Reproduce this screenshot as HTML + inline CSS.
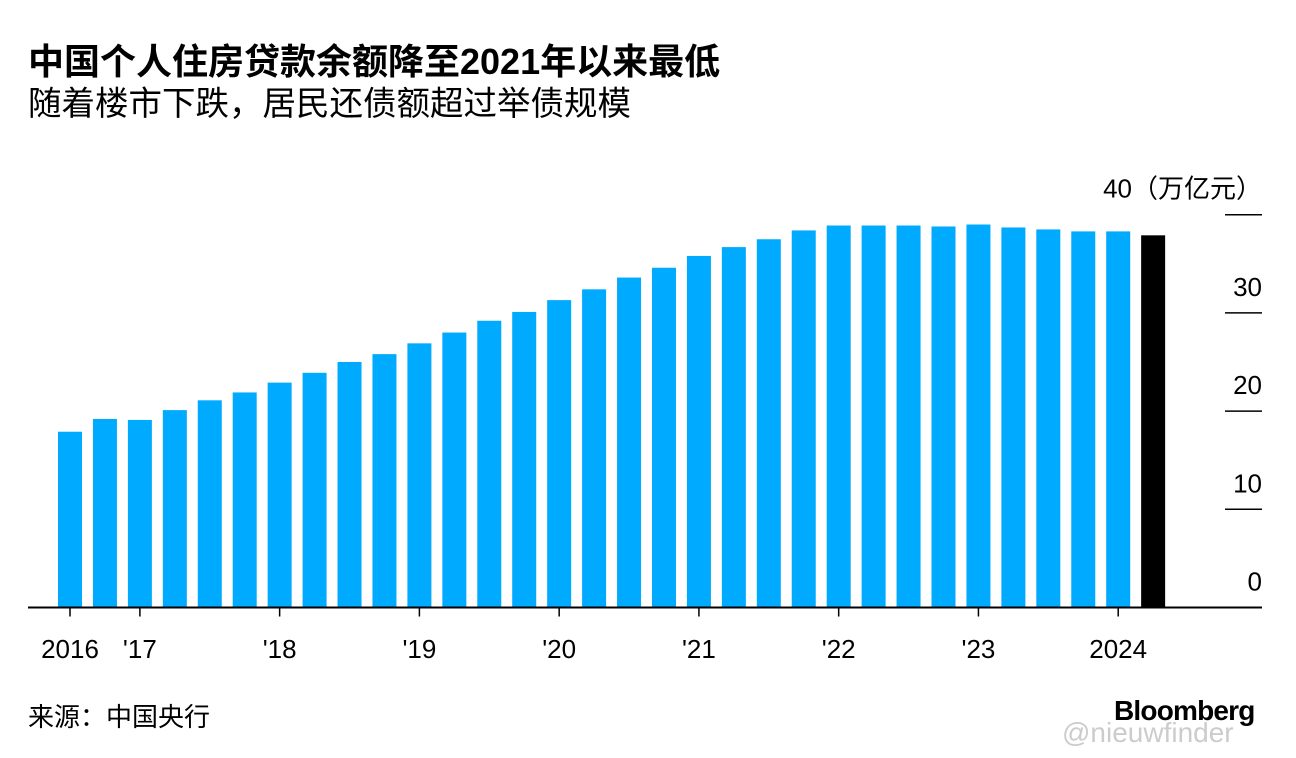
<!DOCTYPE html>
<html><head><meta charset="utf-8"><style>
body{margin:0;background:#fff;width:1296px;height:758px;overflow:hidden;font-family:"Liberation Sans","Noto Sans CJK SC",sans-serif;}
.t{position:absolute;white-space:nowrap;color:#000}
</style></head><body>
<div class="t" style="left:28px;top:40px;font-size:36px;font-weight:bold;line-height:44px;">中国个人住房贷款余额降至2021年以来最低</div>
<div class="t" style="left:28px;top:85px;font-size:33.5px;line-height:40px;">随着楼市下跌，居民还债额超过举债规模</div>
<svg id="chart" width="1296" height="758" style="position:absolute;left:0;top:0"></svg>
<div class="t" style="left:28px;top:701px;font-size:26px;line-height:32px;">来源：中国央行</div>
<div class="t" style="left:1114px;top:694px;font-size:28px;font-weight:bold;letter-spacing:-0.8px;line-height:34px;">Bloomberg</div>
<div class="t" style="left:1062px;top:716px;font-size:28px;color:#ccc;line-height:34px;">@nieuwfinder</div>
<script>
const values=[17.9,19.2,19.1,20.1,21.1,21.9,22.9,23.9,25.0,25.8,26.9,28.0,29.2,30.1,31.3,32.4,33.6,34.6,35.8,36.7,37.5,38.4,38.9,38.9,38.9,38.8,39.0,38.7,38.5,38.3,38.3,37.9];
const xLabelIdx=[0,2,6,10,14,18,22,26,30];
const xLabels=["2016","'17","'18","'19","'20","'21","'22","'23","2024"];
const yTicks=[0,10,20,30,40];
const svg=document.getElementById('chart');
const NS='http://www.w3.org/2000/svg';
const x0=70,step=34.94,bw=24,base=607.5,ppu=9.82;
const xs=i=>x0+i*step, ys=v=>base-v*ppu;
function mk(t,a){const e=document.createElementNS(NS,t);for(const k in a)e.setAttribute(k,a[k]);svg.appendChild(e);return e;}
values.forEach((v,i)=>{
 const r=mk('rect',{x:xs(i)-bw/2,y:ys(v),width:bw,height:base-ys(v),fill:i===values.length-1?'#000':'#00aaff'});
 
 
});
yTicks.forEach(t=>{
 if(t>0){const l=mk('line',{x1:1225,x2:1262,y1:ys(t),y2:ys(t),stroke:'#000','stroke-width':1.5});
 
 }
 const tx=mk('text',{x:1262,y:ys(t)-17,'text-anchor':'end','font-size':26,fill:'#000'});
 
 
 tx.textContent=t===40?'40（万亿元）':String(t);
});
const ax=mk('line',{x1:28,x2:1262,y1:base,y2:base,stroke:'#000','stroke-width':2});


xLabelIdx.forEach((idx,k)=>{
 const tk=mk('line',{x1:xs(idx),x2:xs(idx),y1:base,y2:base+9,stroke:'#000','stroke-width':1.5});
 
 
 const tx=mk('text',{x:xs(idx),y:658,'text-anchor':'middle','font-size':26,fill:'#000'});
 
 
 tx.textContent=xLabels[k];
});
</script>
</body></html>
